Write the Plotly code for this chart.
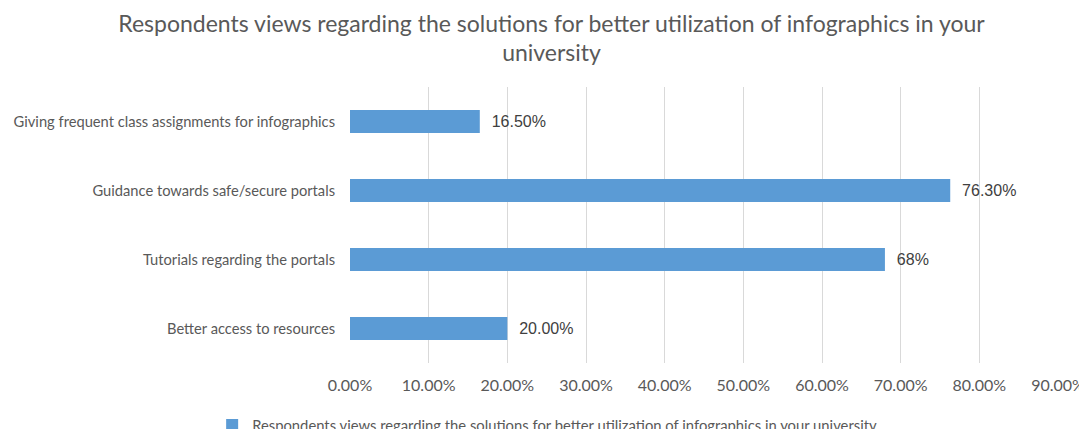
import plotly.graph_objects as go

categories = [
    "Giving frequent class assignments for infographics",
    "Guidance towards safe/secure portals",
    "Tutorials regarding the portals",
    "Better access to resources",
]
values = [0.165, 0.763, 0.68, 0.20]
value_labels = ["16.50%", "76.30%", "68%", "20.00%"]
tick_vals = [0, 0.1, 0.2, 0.3, 0.4, 0.5, 0.6, 0.7, 0.8, 0.9]
tick_text = ["0.00%", "10.00%", "20.00%", "30.00%", "40.00%", "50.00%",
             "60.00%", "70.00%", "80.00%", "90.00%"]
series_name = "Respondents views regarding the solutions for better utilization of infographics in your university"
title_text = "Respondents views regarding the solutions for better utilization of infographics in your<br>university"

fig = go.Figure()
fig.add_trace(go.Bar(
    x=values, y=categories, orientation="h", name=series_name,
    marker=dict(color="#5b9bd5", line=dict(width=0)),
    text=value_labels, texttemplate="  %{text}", textposition="outside", cliponaxis=False,
    textfont=dict(family="Liberation Sans, Arial", size=16, color="#404040"),
    showlegend=True,
))
fig.update_layout(
    width=1087, height=429,
    margin=dict(l=342, r=37, t=79, b=74, autoexpand=False),
    paper_bgcolor="white", plot_bgcolor="white",
    bargap=0.67,
    title=dict(text=title_text, x=0.5, xanchor="center", xref="container",
               y=0.945, yanchor="middle", yref="container",
               font=dict(family="Lato, Open Sans", size=23, color="#595959")),
    xaxis=dict(range=[0, 0.9], tickvals=tick_vals, ticktext=tick_text,
               showgrid=True, gridcolor="#d9d9d9", gridwidth=1, automargin=False,
               zeroline=False, showline=False, ticks="", ticklabelstandoff=11,
               tickfont=dict(family="Lato, Open Sans", size=16, color="#595959")),
    yaxis=dict(autorange="reversed", showgrid=False, zeroline=False, automargin=False,
               showline=False, ticks="", ticklabelstandoff=14,
               tickfont=dict(family="Lato, Open Sans", size=14.7, color="#595959")),
    legend=dict(orientation="h", x=0.496, xanchor="center", xref="container",
                y=0.027, yanchor="middle", yref="container",
                font=dict(family="Lato, Open Sans", size=14.8, color="#595959")),
)
fig.write_html("out.html")
